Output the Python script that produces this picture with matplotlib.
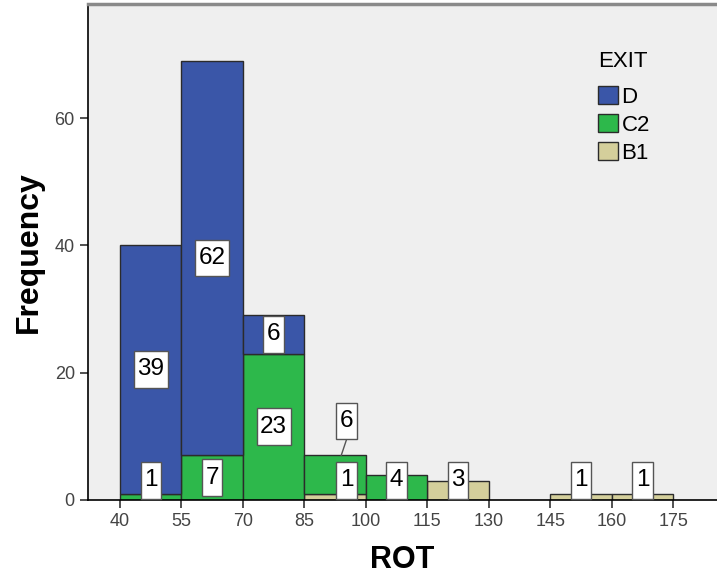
import numpy as np
import matplotlib.pyplot as plt
from matplotlib.patches import Patch
from matplotlib.path import Path

plt.rcParams['font.family'] = ['Liberation Sans', 'DejaVu Sans']

# ROT bins and counts per EXIT group
edges = [40, 55, 70, 85, 100, 115, 130, 145, 160, 175]
groups = ["B1", "C2", "D"]  # stacking order, bottom to top
b1_counts = [0, 0, 0, 1, 0, 3, 0, 1, 1]
c2_counts = [1, 7, 23, 6, 4, 0, 0, 0, 0]
d_counts = [39, 62, 6, 0, 0, 0, 0, 0, 0]
colors = {"D": "#3A56A8", "C2": "#2DB84B", "B1": "#D4CF9B"}

counts = {"B1": b1_counts, "C2": c2_counts, "D": d_counts}
left = np.array(edges[:-1])
width = 15


def tall_box(x0, y0, w, h, mutation_size):
    # label box: little side padding, more above and below
    px = 0.14 * mutation_size
    py = 0.30 * mutation_size
    x0, y0, x1, y1 = x0 - px, y0 - py, x0 + w + px, y0 + h + py
    return Path([(x0, y0), (x1, y0), (x1, y1), (x0, y1), (x0, y0)], closed=True)


fig = plt.figure(figsize=(7.17, 5.78), dpi=100)
ax = fig.add_axes([0.1227, 0.135, 0.8773, 0.858])
ax.set_facecolor("#EFEFEF")

bottom = np.zeros(len(left))
for g in groups:
    h = np.array(counts[g], dtype=float)
    m = h > 0
    ax.bar(left[m], h[m], width=width, bottom=bottom[m], align="edge",
           color=colors[g], edgecolor="#2b2b2b", linewidth=1.0, zorder=2)
    bottom += h

# value labels
box = dict(boxstyle=tall_box, fc="white", ec="#555555", lw=1.0)
min_y = 3.1
for i in range(len(left)):
    base = 0
    x = left[i] + width / 2
    labels = []
    for g in groups:
        v = counts[g][i]
        if v > 0:
            y = max(base + v / 2, min_y)
            labels.append([g, v, y, base + v])
        base += v
    shift = len(labels) > 1 and abs(labels[1][2] - labels[0][2]) < 6
    for k, (g, v, y, top) in enumerate(labels):
        xx = x + (2.8 if shift else 0)
        if shift and k == 1:
            y = labels[0][2] + 9.3
            ax.plot([xx - 1.3, xx], [top, y - 2.9], color="#555555", lw=1.0, zorder=3)
        ax.text(xx, y, str(v), ha="center", va="center", fontsize=17.5,
                bbox=box, zorder=4)

ax.set_xlim(32.2, 185.7)
ax.set_ylim(0, 77.9)
ax.set_xticks(edges)
ax.set_yticks([0, 20, 40, 60])
ax.tick_params(axis="both", direction="out", length=6, width=1.2, color="#333333",
               labelsize=13, labelcolor="#444444")
ax.spines["right"].set_visible(False)
ax.spines["top"].set_color("#8a8a8a")
ax.spines["top"].set_linewidth(2.5)
ax.spines["left"].set_linewidth(1.2)
ax.spines["bottom"].set_linewidth(1.2)

ax.set_xlabel("ROT", fontsize=22, fontweight="bold", labelpad=11)
ax.set_ylabel("Frequency", fontsize=23, fontweight="bold", labelpad=8)

handles = [Patch(facecolor=colors[g], edgecolor="#2b2b2b", label=g) for g in ["D", "C2", "B1"]]
ax.text(0.811, 0.885, "EXIT", transform=ax.transAxes, fontsize=16,
        ha="left", va="center")
leg = ax.legend(handles=handles, loc="upper left",
                bbox_to_anchor=(0.797, 0.853), frameon=False, fontsize=16,
                handlelength=0.9, handleheight=0.9, handletextpad=0.15,
                labelspacing=0.27, borderaxespad=0)

fig.savefig("out.png", dpi=100)
